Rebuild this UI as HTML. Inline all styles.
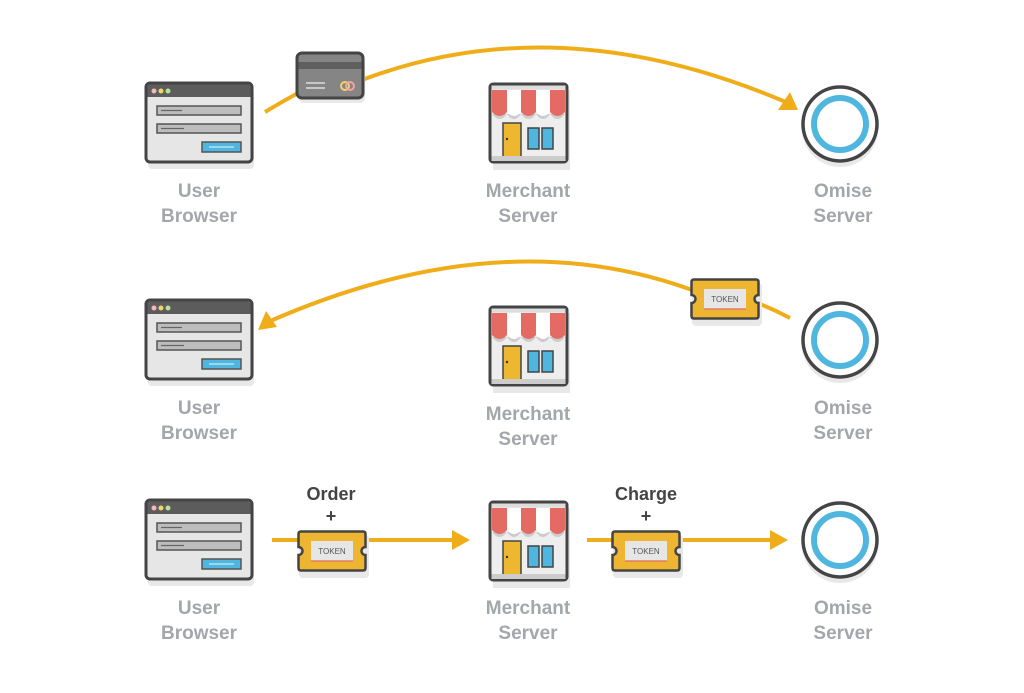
<!DOCTYPE html>
<html><head><meta charset="utf-8"><style>
html,body{margin:0;padding:0;background:#fff;}
svg{display:block;}
.lbl{font-family:"Liberation Sans",sans-serif;font-size:19px;fill:#a3a7ab;text-anchor:middle;font-weight:bold;}
.dk{font-family:"Liberation Sans",sans-serif;font-size:18px;fill:#444;text-anchor:middle;font-weight:bold;}
.tk{font-family:"Liberation Sans",sans-serif;font-size:8px;fill:#555;text-anchor:middle;}
</style></head><body>
<svg width="1024" height="693" viewBox="0 0 1024 693" xmlns="http://www.w3.org/2000/svg">
<defs>
<g id="br">
<rect x="2" y="6" width="106" height="80" rx="4" fill="#e8e8e8"/>
<rect x="0" y="0" width="106" height="79" rx="4" fill="#e6e6e6" stroke="#444" stroke-width="3"/>
<path d="M1.5 14 V4 Q1.5 1.5 4 1.5 H102 Q104.5 1.5 104.5 4 V14 Z" fill="#5c5c5c"/>
<circle cx="8" cy="8" r="2.5" fill="#f3b6c0"/><circle cx="15" cy="8" r="2.5" fill="#f2d46b"/><circle cx="22" cy="8" r="2.5" fill="#b7df9a"/>
<rect x="11" y="23" width="84" height="9" fill="#bdbdbd" stroke="#555" stroke-width="1.5"/>
<line x1="15" y1="27.5" x2="36" y2="27.5" stroke="#666" stroke-width="1.2"/>
<rect x="11" y="41" width="84" height="9" fill="#bdbdbd" stroke="#555" stroke-width="1.5"/>
<line x1="15" y1="45.5" x2="38" y2="45.5" stroke="#666" stroke-width="1.2"/>
<rect x="56" y="59" width="39" height="10" fill="#4fb6e0" stroke="#555" stroke-width="1.5"/>
<line x1="63" y1="64" x2="88" y2="64" stroke="#cfeaf6" stroke-width="1.2"/>
</g>
<g id="st">
<rect x="3" y="6" width="77" height="80" fill="#e8e8e8"/>
<rect x="0" y="0" width="77" height="78" rx="3" fill="#eee" stroke="#444" stroke-width="3"/>
<rect x="1.5" y="1.5" width="74" height="4" fill="#ddd"/>
<path d="M2 30 q7.5 10 15 0 q7 10 14 0 q7.5 10 15 0 q7 10 14 0 q7.5 10 15 0" fill="#ccc"/>
<path d="M2 6 H17 V28 q-7.5 8 -15 0 Z" fill="#e46a64"/>
<path d="M17 6 H31 V28 q-7 8 -14 0 Z" fill="#fff"/>
<path d="M31 6 H46 V28 q-7.5 8 -15 0 Z" fill="#e46a64"/>
<path d="M46 6 H60 V28 q-7 8 -14 0 Z" fill="#fff"/>
<path d="M60 6 H75 V28 q-7.5 8 -15 0 Z" fill="#e46a64"/>
<rect x="13" y="39" width="18" height="34" fill="#edb82f" stroke="#444" stroke-width="1.5"/>
<circle cx="17" cy="55" r="1.2" fill="#333"/>
<rect x="38" y="44" width="11" height="21" fill="#4fb6e0" stroke="#444" stroke-width="1.5"/>
<rect x="52" y="44" width="11" height="21" fill="#4fb6e0" stroke="#444" stroke-width="1.5"/>
<rect x="1.5" y="72" width="74" height="5" fill="#ccc"/>
</g>
<g id="om">
<circle cx="0" cy="5" r="38" fill="#e8e8e8"/>
<circle cx="0" cy="0" r="37" fill="#fff" stroke="#444" stroke-width="3.5"/>
<circle cx="0" cy="0" r="26" fill="#fff" stroke="#4fb6e0" stroke-width="6"/>
</g>
<g id="tk">
<rect x="2" y="5" width="70" height="43" rx="4" fill="#e8e8e8"/>
<path d="M4 1.5 H66 Q68.5 1.5 68.5 4 V17 A4 4 0 0 0 68.5 25 V38 Q68.5 40.5 66 40.5 H4 Q1.5 40.5 1.5 38 V25 A4 4 0 0 0 1.5 17 V4 Q1.5 1.5 4 1.5 Z" fill="#eeb630" stroke="#444" stroke-width="2.5"/>
<rect x="14" y="11" width="42" height="20" fill="#e6e6e6"/>
<line x1="14" y1="31" x2="56" y2="31" stroke="#e46a64" stroke-width="1.2"/>
<text class="tk" x="35" y="24">TOKEN</text>
</g>
</defs>

<!-- row 1 -->
<path d="M265 112 Q285 100 300 92" fill="none" stroke="#f0ad1a" stroke-width="4"/>
<path d="M362 80 Q560 5 788 103" fill="none" stroke="#f0ad1a" stroke-width="4"/>
<polygon points="798,110 778,110 790,92" fill="#f0ad1a"/>
<g transform="translate(297,53)">
<rect x="2" y="4" width="66" height="46" rx="5" fill="#e8e8e8"/>
<rect x="0" y="0" width="66" height="45" rx="5" fill="#858585" stroke="#444" stroke-width="3"/>
<rect x="1.5" y="9" width="63" height="7" fill="#5f5f5f"/>
<line x1="9" y1="30" x2="28" y2="30" stroke="#ddd" stroke-width="1.5"/><line x1="9" y1="35" x2="28" y2="35" stroke="#ddd" stroke-width="1.5"/>
<circle cx="48" cy="33" r="4" fill="none" stroke="#f2d46b" stroke-width="2"/><circle cx="53" cy="33" r="4" fill="none" stroke="#f3a3a0" stroke-width="2"/>
</g>
<use href="#br" x="146" y="83"/>
<use href="#st" x="490" y="84"/>
<use href="#om" x="840" y="124"/>
<text class="lbl" x="199" y="197">User</text><text class="lbl" x="199" y="222">Browser</text>
<text class="lbl" x="528" y="197">Merchant</text><text class="lbl" x="528" y="222">Server</text>
<text class="lbl" x="843" y="197">Omise</text><text class="lbl" x="843" y="222">Server</text>

<!-- row 2 -->
<path d="M790 318 Q775 310 760 304" fill="none" stroke="#f0ad1a" stroke-width="4"/>
<path d="M692 290 Q500 220 268 322" fill="none" stroke="#f0ad1a" stroke-width="4"/>
<polygon points="258,330 266,311 277,327" fill="#f0ad1a"/>
<use href="#tk" x="690" y="278"/>
<use href="#br" x="146" y="300"/>
<use href="#st" x="490" y="307"/>
<use href="#om" x="840" y="340"/>
<text class="lbl" x="199" y="414">User</text><text class="lbl" x="199" y="439">Browser</text>
<text class="lbl" x="528" y="420">Merchant</text><text class="lbl" x="528" y="445">Server</text>
<text class="lbl" x="843" y="414">Omise</text><text class="lbl" x="843" y="439">Server</text>

<!-- row 3 -->
<line x1="272" y1="540" x2="455" y2="540" stroke="#f0ad1a" stroke-width="4"/>
<polygon points="470,540 452,530 452,550" fill="#f0ad1a"/>
<line x1="587" y1="540" x2="772" y2="540" stroke="#f0ad1a" stroke-width="4"/>
<polygon points="788,540 770,530 770,550" fill="#f0ad1a"/>
<use href="#tk" x="297" y="530"/>
<use href="#tk" x="611" y="530"/>
<text class="dk" x="331" y="500">Order</text><text class="dk" x="331" y="522">+</text>
<text class="dk" x="646" y="500">Charge</text><text class="dk" x="646" y="522">+</text>
<use href="#br" x="146" y="500"/>
<use href="#st" x="490" y="502"/>
<use href="#om" x="840" y="540"/>
<text class="lbl" x="199" y="614">User</text><text class="lbl" x="199" y="639">Browser</text>
<text class="lbl" x="528" y="614">Merchant</text><text class="lbl" x="528" y="639">Server</text>
<text class="lbl" x="843" y="614">Omise</text><text class="lbl" x="843" y="639">Server</text>
</svg>
</body></html>
